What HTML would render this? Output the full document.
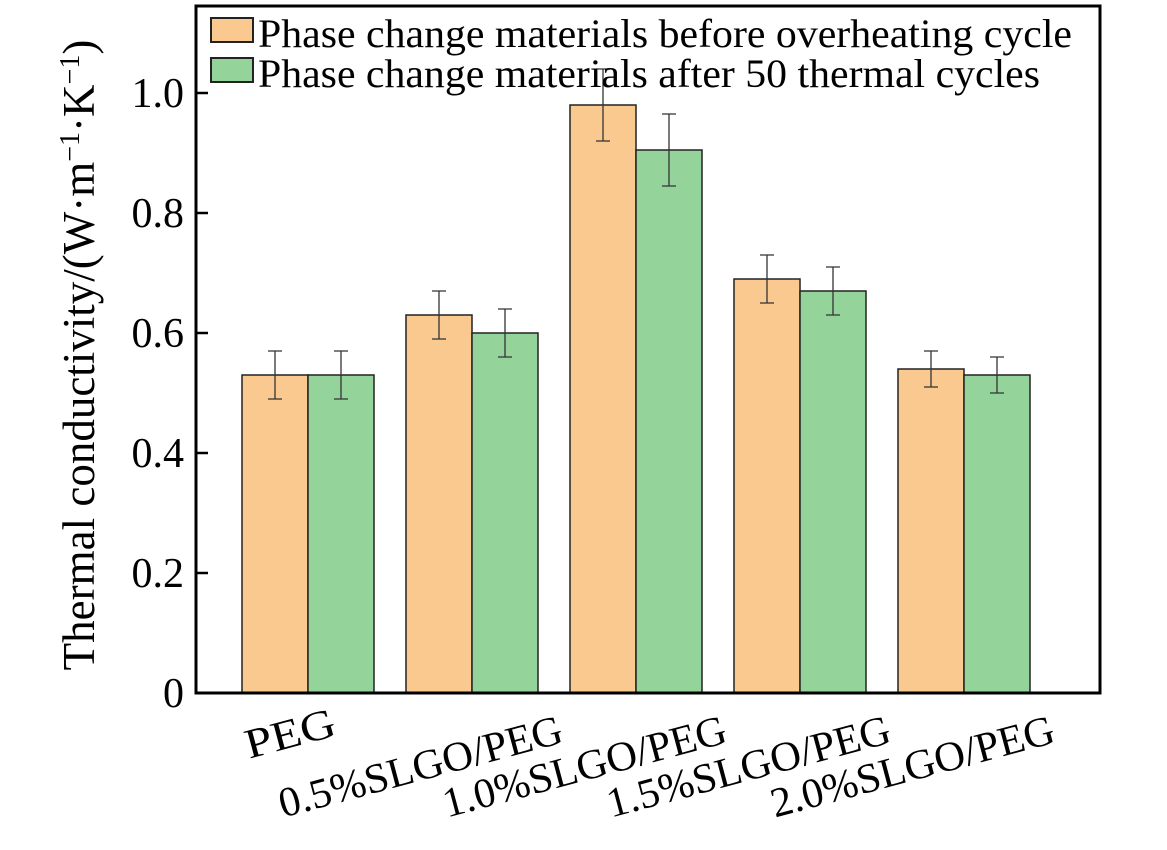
<!DOCTYPE html>
<html><head><meta charset="utf-8"><style>body{margin:0;background:#fff}svg{display:block}</style></head>
<body>
<svg width="1167" height="850" viewBox="0 0 1167 850" font-family="'Liberation Serif', serif">
<g id="bars"></g>
<rect x="196" y="6" width="904" height="687" fill="none" stroke="#000" stroke-width="3"/>
<g id="yaxis"></g>
<g id="xlabels"></g>
<text transform="translate(94,355) rotate(-90)" text-anchor="middle" font-size="45">Thermal conductivity/(W·m<tspan baseline-shift="super" font-size="28">−1</tspan>·K<tspan baseline-shift="super" font-size="28">−1</tspan>)</text>
<g>
<rect x="211" y="18" width="42" height="24" fill="#f9c98f" stroke="#222" stroke-width="2"/>
<text x="258" y="47" font-size="40" textLength="814" lengthAdjust="spacingAndGlyphs">Phase change materials before overheating cycle</text>
<rect x="211" y="58" width="42" height="24" fill="#94d49b" stroke="#222" stroke-width="2"/>
<text x="258" y="87" font-size="40" textLength="782" lengthAdjust="spacingAndGlyphs">Phase change materials after 50 thermal cycles</text>
</g>
</svg>
<script>
const categories=["PEG","0.5%SLGO/PEG","1.0%SLGO/PEG","1.5%SLGO/PEG","2.0%SLGO/PEG"];
const before=[0.53,0.63,0.98,0.69,0.54];
const beforeErr=[0.04,0.04,0.06,0.04,0.03];
const after=[0.53,0.60,0.905,0.67,0.53];
const afterErr=[0.04,0.04,0.06,0.04,0.03];
const yTicks=[0,0.2,0.4,0.6,0.8,1.0];
const yTickLabels=["0","0.2","0.4","0.6","0.8","1.0"];
const NS="http://www.w3.org/2000/svg";
const y=v=>693-v*600;
const xc=i=>308+i*164;
const bw=66;
function mk(tag,attrs,parent){const e=document.createElementNS(NS,tag);for(const k in attrs)e.setAttribute(k,attrs[k]);parent.appendChild(e);return e;}
const gb=document.getElementById('bars');
function bar(i,v,err,x,color,name){
  const r=mk('rect',{x:x,y:y(v),width:bw,height:693-y(v),fill:color,stroke:'#222','stroke-width':1.5},gb);
  
  
  const cx=x+bw/2;
  const e=mk('path',{d:`M${cx} ${y(v+err)}V${y(v-err)}M${cx-7} ${y(v+err)}H${cx+7}M${cx-7} ${y(v-err)}H${cx+7}`,stroke:'#333','stroke-width':1.3,fill:'none'},gb);
  
  
}
categories.forEach((c,i)=>{
  bar(i,before[i],beforeErr[i],xc(i)-bw,'#f9c98f','bar-before');
  bar(i,after[i],afterErr[i],xc(i),'#94d49b','bar-after');
  const t=mk('text',{'text-anchor':'end','font-size':42,'lengthAdjust':'spacingAndGlyphs','textLength':i===0?92:292},document.getElementById('xlabels'));
  const ex=i===0?xc(i)+30:xc(i)+93, ey=i===0?735:742;
  t.setAttribute('transform',`translate(${ex},${ey}) rotate(-15)`);
  t.textContent=c;
  
  
});
const gy=document.getElementById('yaxis');
yTicks.forEach((v,i)=>{
  const l=mk('line',{x1:196,x2:208,y1:y(v),y2:y(v),stroke:'#000','stroke-width':2.5},gy);
  
  
  const t=mk('text',{x:184,y:y(v)+14,'text-anchor':'end','font-size':42},gy);
  t.textContent=yTickLabels[i];
  
  
});
</script>
</body></html>
